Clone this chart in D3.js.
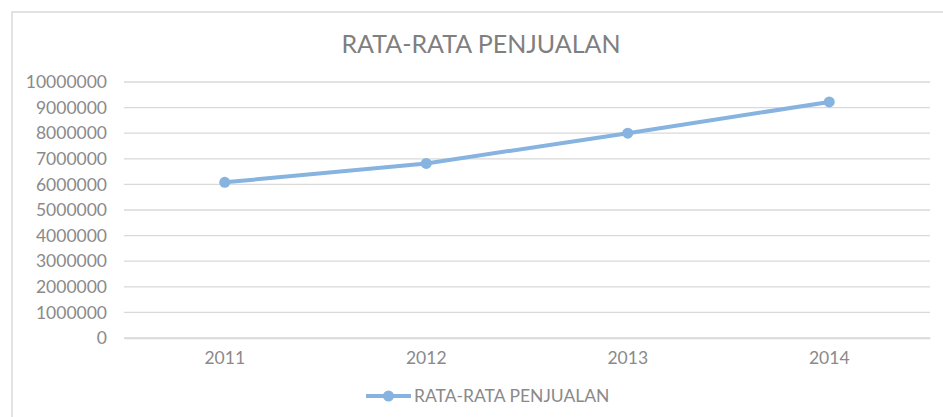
<!DOCTYPE html>
<html><head><meta charset="utf-8">
<script src="https://cdn.jsdelivr.net/npm/d3@7"></script>
<style>html,body{margin:0;padding:0;background:#fff;overflow:hidden}</style>
</head><body>
<svg id="c" width="943" height="417"></svg>
<script>
const categories = ["2011", "2012", "2013", "2014"];
const seriesName = "RATA-RATA PENJUALAN";
const values = [6080000, 6820000, 8000000, 9220000];
const yTicks = [0,1000000,2000000,3000000,4000000,5000000,6000000,7000000,8000000,9000000,10000000];
const title = "RATA-RATA PENJUALAN";

const svg = d3.select("#c");
const font = "Lato, 'Open Sans', sans-serif";
const lineColor = "#86b3e0";
const textColor = "#8a8a8a";

svg.append("rect").attr("x",12).attr("y",12).attr("width",960).attr("height",440)
  .attr("fill","#fff").attr("stroke","#d9d9d9").attr("stroke-width",1.5);

const x = d3.scaleBand().domain(categories).range([124, 930]);
const y = d3.scaleLinear().domain([0, 10000000]).range([338, 82]);

const grid = svg.append("g");
grid.selectAll("line").data(yTicks).join("line")
  .attr("x1",124).attr("x2",930)
  .attr("y1",d=>y(d)).attr("y2",d=>y(d))
  .attr("stroke","#d9d9d9").attr("stroke-width",1.3);

const yAxis = svg.append("g").attr("transform","translate(124,0)")
  .call(d3.axisLeft(y).tickValues(yTicks).tickFormat(d3.format("d")).tickSize(0).tickPadding(17));
yAxis.select(".domain").remove();
yAxis.selectAll("text").attr("fill",textColor).style("font-family",font).style("font-size","17.5px");

const xAxis = svg.append("g").attr("transform","translate(0,338)")
  .call(d3.axisBottom(x).tickSize(0).tickPadding(14));
xAxis.select(".domain").attr("stroke","#d9d9d9").attr("stroke-width",1.3);
xAxis.selectAll("text").attr("fill",textColor).style("font-family",font).style("font-size","17.5px");

const pts = categories.map((c,i)=>({c, v: values[i]}));
const line = d3.line().x(d=>x(d.c)+x.bandwidth()/2).y(d=>y(d.v));
svg.append("path").datum(pts).attr("d",line).attr("fill","none")
  .attr("stroke",lineColor).attr("stroke-width",4).attr("stroke-linecap","round");
svg.selectAll("circle.pt").data(pts).join("circle").attr("class","pt")
  .attr("cx",d=>x(d.c)+x.bandwidth()/2).attr("cy",d=>y(d.v)).attr("r",5.5).attr("fill",lineColor);

svg.append("text").attr("x",481).attr("y",52.5).attr("text-anchor","middle")
  .attr("fill","#7f7f7f").style("font-family",font).style("font-size","25px").text(title);

const lg = svg.append("g");
lg.append("line").attr("x1",366).attr("x2",411).attr("y1",396).attr("y2",396)
  .attr("stroke",lineColor).attr("stroke-width",4);
lg.append("circle").attr("cx",388.5).attr("cy",396).attr("r",5.5).attr("fill",lineColor);
lg.append("text").attr("x",414).attr("y",402).attr("fill",textColor)
  .style("font-family",font).style("font-size","17.5px").text(seriesName);
</script>
</body></html>
